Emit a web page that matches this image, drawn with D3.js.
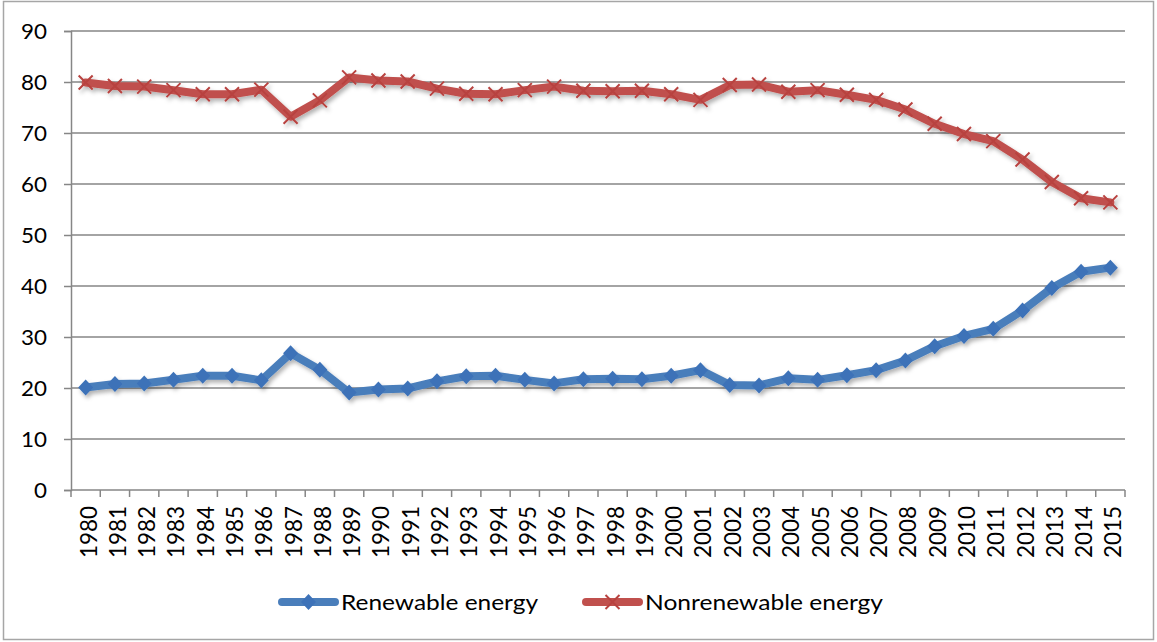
<!DOCTYPE html>
<html>
<head>
<meta charset="utf-8">
<script src="https://cdn.jsdelivr.net/npm/d3@7"></script>
<style>
  body { margin: 0; background: #fff; }
  svg text { font-family: Lato, "Open Sans", sans-serif; fill: #000; }
</style>
</head>
<body>
<div id="chart"></div>
<script>
//// energy share by year, renewable vs nonrenewable

const years = ["1980","1981","1982","1983","1984","1985","1986","1987","1988","1989",
  "1990","1991","1992","1993","1994","1995","1996","1997","1998","1999",
  "2000","2001","2002","2003","2004","2005","2006","2007","2008","2009",
  "2010","2011","2012","2013","2014","2015"];

const renewable = [20.1, 20.8, 20.9, 21.6, 22.4, 22.4, 21.5, 26.8, 23.6, 19.1,
  19.7, 19.9, 21.3, 22.3, 22.4, 21.6, 20.9, 21.7, 21.8, 21.7,
  22.4, 23.5, 20.6, 20.5, 21.9, 21.6, 22.5, 23.5, 25.4, 28.2,
  30.2, 31.6, 35.2, 39.6, 42.8, 43.6];

const nonrenewable = [79.9, 79.2, 79.1, 78.4, 77.6, 77.6, 78.5, 73.2, 76.4, 80.9,
  80.3, 80.1, 78.7, 77.7, 77.6, 78.4, 79.1, 78.3, 78.2, 78.3,
  77.6, 76.5, 79.4, 79.5, 78.1, 78.4, 77.5, 76.5, 74.6, 71.8,
  69.8, 68.4, 64.8, 60.4, 57.2, 56.4];

const yTicks = [0, 10, 20, 30, 40, 50, 60, 70, 80, 90];
const seriesNames = ["Renewable energy", "Nonrenewable energy"];

const W = 1157, H = 642;
const margin = {top: 31, right: 32, bottom: 152, left: 71};

const svg = d3.select("#chart").append("svg")
    .attr("width", W)
    .attr("height", H);

// drop shadow like the office chart
const defs = svg.append("defs");
const f = defs.append("filter").attr("id", "shadow")
    .attr("x", "-10%").attr("y", "-10%").attr("width", "120%").attr("height", "130%");
f.append("feDropShadow").attr("dx", 2).attr("dy", 3).attr("stdDeviation", 2)
    .attr("flood-color", "#000").attr("flood-opacity", 0.3);

// outer border
svg.append("rect")
    .attr("x", 3.5).attr("y", 1.5)
    .attr("width", W - 7).attr("height", H - 4)
    .attr("fill", "none").attr("stroke", "#a6a6a6").attr("stroke-width", 1.5);

const g = svg.append("g").attr("transform", `translate(${margin.left},${margin.top})`);
const width = W - margin.left - margin.right;
const height = H - margin.top - margin.bottom;

const x = d3.scaleBand().domain(years).range([0, width]).paddingInner(0).paddingOuter(0);
const y = d3.scaleLinear().domain([0, 90]).range([height, 0]);
const cx = d => x(d) + x.bandwidth() / 2;

// gridlines
g.selectAll(".grid").data(yTicks.slice(1)).enter().append("line")
    .attr("x1", 0).attr("x2", width)
    .attr("y1", d => y(d)).attr("y2", d => y(d))
    .attr("stroke", "#868686").attr("stroke-width", 1.5);

// y axis
const yAxis = g.append("g")
    .call(d3.axisLeft(y).tickValues(yTicks).tickSize(7).tickPadding(17));
yAxis.select(".domain").attr("stroke", "#868686").attr("stroke-width", 1.5);
yAxis.selectAll(".tick line").attr("stroke", "#868686").attr("stroke-width", 1.5);
yAxis.selectAll(".tick text")
    .style("font-size", "22px").attr("dy", "0.36em")
    .attr("textLength", d => String(d).length * 13).attr("lengthAdjust", "spacingAndGlyphs");

// x axis line + ticks at category edges
g.append("line")
    .attr("x1", 0).attr("x2", width).attr("y1", height).attr("y2", height)
    .attr("stroke", "#868686").attr("stroke-width", 1.5);
const edges = years.map(d => x(d)).concat([width]);
g.selectAll(".xtick").data(edges).enter().append("line")
    .attr("x1", d => d).attr("x2", d => d)
    .attr("y1", height).attr("y2", height + 7)
    .attr("stroke", "#868686").attr("stroke-width", 1.5);

g.selectAll(".xlabel").data(years).enter().append("text")
    .text(d => d)
    .attr("transform", d => `translate(${cx(d) + 11},${height + 16}) rotate(-90)`)
    .attr("text-anchor", "end")
    .attr("textLength", 52).attr("lengthAdjust", "spacingAndGlyphs")
    .style("font-size", "23px");

const line = d3.line().x((d, i) => cx(years[i])).y(d => y(d));

const blue = "#3d72b8", red = "#c0504d";
const diamond = "M0,-8L7.5,0L0,8L-7.5,0Z";
const cross = "M-7,-7L7,7M-7,7L7,-7";

// renewable
const gR = g.append("g").attr("filter", "url(#shadow)");
gR.append("path").datum(renewable)
    .attr("d", line).attr("fill", "none")
    .attr("stroke", "#4a7ebb").attr("stroke-width", 8)
    .attr("stroke-linejoin", "round").attr("stroke-linecap", "round");
gR.selectAll(".dia").data(renewable).enter().append("path")
    .attr("d", diamond)
    .attr("transform", (d, i) => `translate(${cx(years[i])},${y(d)})`)
    .attr("fill", blue);

// nonrenewable
const gN = g.append("g").attr("filter", "url(#shadow)");
gN.append("path").datum(nonrenewable)
    .attr("d", line).attr("fill", "none")
    .attr("stroke", red).attr("stroke-width", 8)
    .attr("stroke-linejoin", "round").attr("stroke-linecap", "round");
gN.selectAll(".cross").data(nonrenewable).enter().append("path")
    .attr("d", cross)
    .attr("transform", (d, i) => `translate(${cx(years[i])},${y(d)})`)
    .attr("stroke", "#b8423f").attr("stroke-width", 2).attr("fill", "none");

// legend
const legend = svg.append("g").attr("transform", "translate(0,602)");
const items = [
  {name: seriesNames[0], x0: 282, color: "#4a7ebb", mark: "dia", tl: 197},
  {name: seriesNames[1], x0: 586, color: red, mark: "cross", tl: 238}
];
items.forEach(it => {
  legend.append("line")
      .attr("x1", it.x0).attr("x2", it.x0 + 53)
      .attr("stroke", it.color).attr("stroke-width", 8).attr("stroke-linecap", "round");
  if (it.mark == "dia") {
    legend.append("path")
        .attr("d", diamond)
        .attr("transform", `translate(${it.x0 + 26.5},0)`)
        .attr("fill", blue);
  } else {
    legend.append("path")
        .attr("d", cross)
        .attr("transform", `translate(${it.x0 + 26.5},0)`)
        .attr("stroke", "#b8423f").attr("stroke-width", 2);
  }
  legend.append("text")
      .text(it.name)
      .attr("x", it.x0 + 59).attr("y", 0).attr("dy", "0.36em")
      .attr("textLength", it.tl).attr("lengthAdjust", "spacingAndGlyphs")
      .style("font-size", "21px");
});
</script>
</body>
</html>
